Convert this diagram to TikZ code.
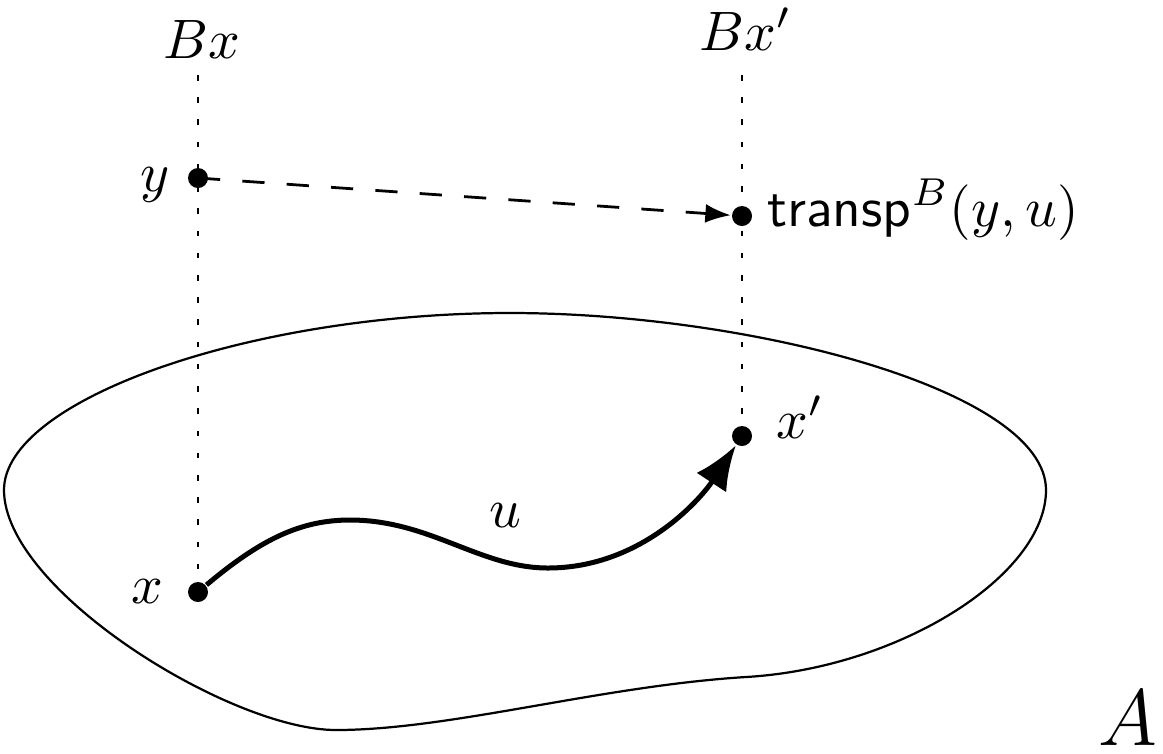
\documentclass[tikz,border=0pt]{standalone}
\usetikzlibrary{arrows.meta}
\begin{document}
\begin{tikzpicture}[x=0.18pt,y=-0.18pt,
  dotnode/.style={circle,fill,inner sep=0pt,minimum size=3.6pt},
  lbl/.style={inner sep=0pt,anchor=base},
  guide/.style={line width=0.5pt,dash pattern=on 1pt off 3pt},
  region/.style={line width=0.4pt},
  transport/.style={line width=0.5pt,dash pattern=on 4pt off 4pt,-{Latex[length=4.6pt,width=3.4pt]}},
  pathu/.style={line width=0.9pt,-{Latex[length=8pt,width=6.4pt]}}]
\useasboundingbox (0,0) rectangle (1163,753);
\draw[region] (4,490) .. controls (4,400) and (250,313) .. (510,313)
  .. controls (750,313) and (1046,390) .. (1046,490)
  .. controls (1046,575) and (900,668) .. (746,677)
  .. controls (600,686) and (450,730) .. (336,730)
  .. controls (230,730) and (4,590) .. cycle;
\node[dotnode] (y) at (198,178) {};
\node[dotnode] (t) at (742,216) {};
\node[dotnode] (x) at (198,592) {};
\node[dotnode] (xp) at (742,436) {};
\coordinate (bxtop) at (198,75);
\coordinate (bxptop) at (742,75);
\node[lbl] (bxl) at (202,58) {$Bx$};
\node[lbl] (bxpl) at (746,50) {$Bx'$};
\node[lbl] (yl) at (155,191) {$y$};
\node[lbl] (xl) at (147,603) {$x$};
\node[lbl] (xpl) at (800,438) {$x'$};
\node[lbl] (ul) at (505,527) {$u$};
\node[lbl,font=\Large] (al) at (1128,745) {$A$};
\node[anchor=base west,inner sep=0pt] (tl) at (766,226) {$\textsf{transp}^B(y,u)$};
\draw[guide] (bxtop) -- (x.center);
\draw[guide] (bxptop) -- (xp.center);
\draw[transport] (y.center) -- (t);
\draw[pathu] (x) .. controls (260,540) and (300,520) .. (350,520) .. controls (430,520) and (480,568) .. (548,568) .. controls (640,568) and (700,500) .. (xp);
\end{tikzpicture}
\end{document}
